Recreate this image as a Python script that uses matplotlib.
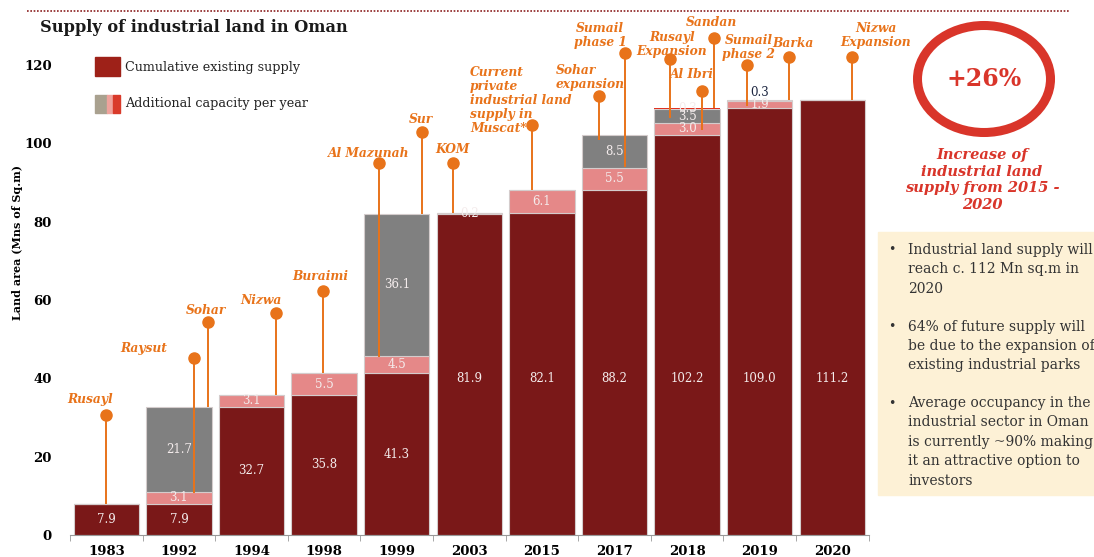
import matplotlib.pyplot as plt
from matplotlib.patches import Rectangle, Ellipse
from matplotlib.lines import Line2D

years = ['1983', '1992', '1994', '1998', '1999', '2003', '2015', '2017', '2018', '2019', '2020']
existing = [7.9, 7.9, 32.7, 35.8, 41.3, 81.9, 82.1, 88.2, 102.2, 109.0, 111.2]
add_pink = [0, 3.1, 3.1, 5.5, 4.5, 0.2, 6.1, 5.5, 3.0, 1.9, 0]
add_gray = [0, 21.7, 0, 0, 36.1, 0, 0, 8.5, 3.5, 0.3, 0]
add_red = [0, 0, 0, 0, 0, 0, 0, 0, 0.3, 0, 0]

# callouts: label, x position (category units), dot value, line end value
callout_names = ['Rusayl', 'Raysut', 'Sohar', 'Nizwa', 'Buraimi', 'Al Mazunah', 'Sur', 'KOM',
                 'Current\nprivate\nindustrial land\nsupply in\nMuscat*',
                 'Sohar\nexpansion', 'Sumail\nphase 1', 'Rusayl\nExpansion', 'Sandan', 'Al Ibri',
                 'Sumail\nphase 2', 'Barka', 'Nizwa\nExpansion']
callout_x = [0.0, 1.21, 1.40, 2.34, 2.99, 3.75, 4.35, 4.78, 5.87, 6.79, 7.14, 7.77, 8.37, 8.20, 8.82, 9.40, 10.27]
callout_dot = [30.6, 45.2, 54.4, 56.7, 62.3, 95.0, 102.9, 95.0, 104.7, 112.1, 123.0, 121.5, 126.9, 113.3, 120.0, 122.0, 122.0]
callout_end = [7.9, 10.7, 32.7, 35.8, 41.3, 45.5, 81.9, 82.1, 88.2, 100.8, 94.0, 106.5, 109.0, 103.5, 109.5, 111.2, 111.2]
# text anchor of the first line (x, y, horizontal alignment)
callout_txt = [(-0.23, 34.5, 'center'), (0.52, 47.7, 'center'), (1.37, 57.4, 'center'),
               (2.13, 60.0, 'center'), (2.95, 65.9, 'center'), (3.61, 97.5, 'center'),
               (4.33, 106.0, 'center'), (4.77, 98.5, 'center'), (5.01, 118.2, 'left'),
               (6.19, 118.7, 'left'), (6.80, 129.4, 'center'), (7.79, 127.1, 'center'),
               (8.34, 131.0, 'center'), (8.06, 117.7, 'center'), (8.85, 126.4, 'center'),
               (9.46, 125.6, 'center'), (10.6, 129.4, 'center')]

bullets = [['Industrial land supply will', 'reach c. 112 Mn sq.m in', '2020'],
           ['64% of future supply will', 'be due to the expansion of', 'existing industrial parks'],
           ['Average occupancy in the', 'industrial sector in Oman', 'is currently ~90% making',
            'it an attractive option to', 'investors']]

dark = '#7a1818'
pink = '#e58888'
gray = '#808080'
red = '#e03222'
orange = '#e8731a'
ring = '#d9352a'

plt.rcParams['font.family'] = 'DejaVu Serif'

fig = plt.figure(figsize=(10.94, 5.57), dpi=100)
ax = fig.add_axes([0.064, 0.0395, 0.73, 0.9245])

x = list(range(len(years)))
edge = dict(edgecolor='#d4cccc', linewidth=0.8, width=0.9)
ax.bar(x, existing, color=dark, **edge)
b1 = [e + p for e, p in zip(existing, add_pink)]
b2 = [b + g for b, g in zip(b1, add_gray)]
ax.bar(x, add_pink, bottom=existing, color=pink, **edge)
ax.bar(x, add_gray, bottom=b1, color=gray, **edge)
ax.bar(x, add_red, bottom=b2, color=red, width=0.9, linewidth=0)

lab = dict(ha='center', va='center', fontsize=8.5, color='#f4ecec')
for i in x:
    ax.text(i, min(existing[i] / 2, 40), f'{existing[i]:.1f}', **lab)
    if add_pink[i]:
        ax.text(i, existing[i] + add_pink[i] / 2, f'{add_pink[i]:.1f}', **lab)
    if add_gray[i]:
        if add_gray[i] < 1 and not add_red[i]:
            ax.text(i, b2[i] + 1.7, f'{add_gray[i]:.1f}', ha='center', va='center',
                    fontsize=8.5, color='#1c2540')
        else:
            ax.text(i, b1[i] + add_gray[i] / 2, f'{add_gray[i]:.1f}', **lab)
    if add_red[i]:
        ax.text(i, b2[i] + add_red[i] / 2, f'{add_red[i]:.1f}', **lab)

# callouts
step = 14 / 3.917
for name, cx, cd, ce, (tx, ty, ha) in zip(callout_names, callout_x, callout_dot, callout_end, callout_txt):
    ax.plot([cx, cx], [ce, cd], color=orange, lw=1.4, solid_capstyle='butt', zorder=5)
    ax.plot(cx, cd, 'o', color=orange, ms=8, zorder=6, clip_on=False)
    for k, ln in enumerate(name.split('\n')):
        ax.text(tx, ty - k * step, ln, ha=ha, va='center', color=orange, fontsize=8.8,
                fontweight='bold', fontstyle='italic', clip_on=False)

ax.set_xlim(-0.5, 10.5)
ax.set_ylim(0, 131.5)
ax.set_yticks([0, 20, 40, 60, 80, 100, 120])
ax.tick_params(axis='y', length=0, pad=13, labelsize=9.5)
for t in ax.get_yticklabels():
    t.set_fontweight('bold')
ax.set_xticks(x)
ax.set_xticklabels(years, fontweight='bold', fontsize=9.5)
ax.tick_params(axis='x', length=0, pad=7)
ax.set_xticks([i - 0.5 for i in range(len(years) + 1)], minor=True)
ax.tick_params(axis='x', which='minor', length=4, color='#999999')
for s in ['top', 'right', 'left']:
    ax.spines[s].set_visible(False)
ax.spines['bottom'].set_color('#999999')

fig.text(18 / 1094, 1 - 243 / 557, 'Land area (Mns of Sq.m)', rotation=90, ha='center',
         va='center', fontsize=8, fontweight='bold')

# title and top rule
fig.add_artist(Line2D([27 / 1094, 1070 / 1094], [0.98, 0.98], color='#8b2020', lw=1.2,
                      linestyle=(0, (1, 1)), transform=fig.transFigure))
fig.text(40 / 1094, 1 - 28 / 557, 'Supply of industrial land in Oman', fontsize=11.7,
         fontweight='bold', va='center', color='#1a1a1a')

# legend
fig.add_artist(Rectangle((95 / 1094, 1 - 76 / 557), 25 / 1094, 19 / 557, color='#9e2118',
                         transform=fig.transFigure))
for x0, w, c in [(95, 12, '#a9a18f'), (107, 6, '#f0a29c'), (113, 7, '#d93a2a')]:
    fig.add_artist(Rectangle((x0 / 1094, 1 - 113 / 557), w / 1094, 18 / 557, color=c,
                             transform=fig.transFigure))
fig.text(125 / 1094, 1 - 67 / 557, 'Cumulative existing supply', fontsize=9.2, va='center', color='#222222')
fig.text(125 / 1094, 1 - 104 / 557, 'Additional capacity per year', fontsize=9.2, va='center', color='#222222')

# right panel
fig.add_artist(Ellipse((984 / 1094, 1 - 79 / 557), 133 / 1094, 107 / 557, fill=False,
                       edgecolor=ring, lw=6.5, transform=fig.transFigure))
fig.text(984 / 1094, 1 - 79 / 557, '+26%', ha='center', va='center', fontsize=17,
         fontweight='bold', color=ring)
fig.text(982 / 1094, 1 - 180 / 557, 'Increase of\nindustrial land\nsupply from 2015 -\n2020',
         ha='center', va='center', fontsize=10.5, fontweight='bold', fontstyle='italic',
         color=ring, linespacing=1.25)

fig.add_artist(Rectangle((878 / 1094, 1 - 495 / 557), 216 / 1094, 263 / 557, color='#fdf1d6',
                         transform=fig.transFigure, zorder=0))
line_y = 250
for block in bullets:
    fig.text(888 / 1094, 1 - line_y / 557, '•', fontsize=9, va='center', color='#333333')
    for ln in block:
        fig.text(908 / 1094, 1 - line_y / 557, ln, fontsize=10, va='center', color='#333333')
        line_y += 19.5
    line_y += 18

fig.savefig('out.png', dpi=100)
